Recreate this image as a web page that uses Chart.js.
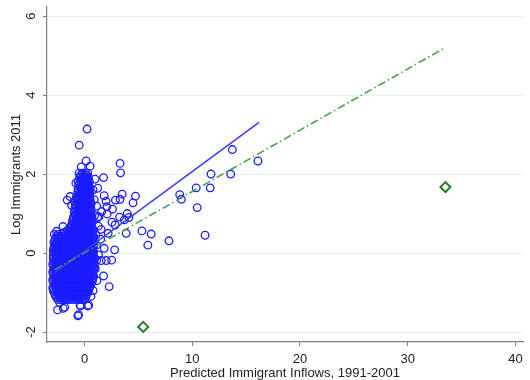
<!DOCTYPE html>
<html>
<head>
<meta charset="utf-8">
<script src="https://cdn.jsdelivr.net/npm/chart.js@4/dist/chart.umd.min.js"></script>
<style>
  html, body { margin: 0; padding: 0; background: #fff; }
  canvas { display: block; }
</style>
</head>
<body>
<canvas id="immigrantChart" width="530" height="380"></canvas>
<script>
const xTicks = [0, 10, 20, 30, 40];
const yTicks = [-2, 0, 2, 4, 6];

// dense cloud near zero, read row by row (log immigrants -> predicted inflows)
const cloudRowY = [-1.18, -1.08, -0.98, -0.88, -0.78, -0.68, -0.58, -0.48, -0.38, -0.28, -0.18,
  -0.08, 0.02, 0.12, 0.22, 0.32, 0.42, 0.52, 0.62, 0.72, 0.82, 0.92, 1.02, 1.12, 1.22, 1.32,
  1.42, 1.52, 1.62, 1.72, 1.82, 1.92, 2.02];
const cloudRowX = [
  [-2.45, -2.15, -1.85, -1.5, -1.2, -0.9, -0.6, -0.3, -0.05],
  [-2.7, -2.35, -2.05, -1.7, -1.4, -1.05, -0.75, -0.45, -0.15, 0.15],
  [-2.85, -2.55, -2.2, -1.9, -1.55, -1.25, -0.9, -0.6, -0.3, 0.0, 0.3],
  [-2.95, -2.65, -2.35, -2.05, -1.7, -1.4, -1.1, -0.75, -0.45, -0.15, 0.15, 0.45],
  [-2.8, -2.5, -2.2, -1.9, -1.55, -1.25, -0.95, -0.6, -0.3, 0.0, 0.3, 0.6],
  [-2.95, -2.65, -2.35, -2.05, -1.75, -1.4, -1.1, -0.8, -0.45, -0.15, 0.15, 0.45, 0.75],
  [-2.8, -2.5, -2.2, -1.9, -1.6, -1.25, -0.95, -0.65, -0.3, 0.0, 0.3, 0.6, 0.85],
  [-2.95, -2.65, -2.35, -2.05, -1.75, -1.45, -1.1, -0.8, -0.5, -0.15, 0.15, 0.45, 0.75],
  [-2.8, -2.5, -2.2, -1.9, -1.6, -1.3, -0.95, -0.65, -0.35, 0.0, 0.3, 0.6, 0.9],
  [-2.95, -2.65, -2.35, -2.05, -1.75, -1.45, -1.15, -0.8, -0.5, -0.2, 0.15, 0.45, 0.75],
  [-2.8, -2.5, -2.2, -1.9, -1.6, -1.3, -1.0, -0.65, -0.35, -0.05, 0.3, 0.6, 0.9],
  [-2.9, -2.6, -2.35, -2.05, -1.75, -1.45, -1.15, -0.8, -0.5, -0.2, 0.15, 0.45, 0.75],
  [-2.8, -2.5, -2.2, -1.9, -1.6, -1.3, -1.0, -0.65, -0.35, -0.05, 0.3, 0.6, 0.85],
  [-2.85, -2.6, -2.35, -2.05, -1.75, -1.45, -1.15, -0.8, -0.5, -0.2, 0.15, 0.45, 0.75],
  [-2.7, -2.45, -2.2, -1.9, -1.6, -1.3, -1.0, -0.65, -0.35, -0.05, 0.3, 0.6, 0.85],
  [-2.75, -2.35, -2.05, -1.75, -1.45, -1.15, -0.8, -0.5, -0.2, 0.15, 0.45, 0.7],
  [-2.6, -2.3, -1.9, -1.55, -1.3, -1.0, -0.65, -0.35, -0.05, 0.3, 0.6, 0.85],
  [-1.9, -1.45, -1.15, -0.85, -0.5, -0.2, 0.1, 0.4, 0.7],
  [-1.35, -1.0, -0.7, -0.4, -0.1, 0.2, 0.5, 0.75],
  [-1.2, -0.85, -0.55, -0.25, 0.05, 0.35, 0.65],
  [-1.1, -0.8, -0.5, -0.2, 0.1, 0.4, 0.7],
  [-1.0, -0.7, -0.4, -0.1, 0.2, 0.5, 0.7],
  [-0.95, -0.65, -0.35, -0.05, 0.25, 0.55],
  [-0.9, -0.6, -0.3, 0.0, 0.3, 0.6],
  [-0.85, -0.55, -0.25, 0.05, 0.35, 0.6],
  [-0.9, -0.6, -0.3, 0.0, 0.3, 0.55],
  [-0.75, -0.45, -0.15, 0.15, 0.45],
  [-0.65, -0.35, -0.05, 0.25, 0.5],
  [-0.6, -0.3, 0.0, 0.3, 0.45],
  [-0.55, -0.25, 0.05, 0.35],
  [-0.6, -0.3, 0.0, 0.3, 0.45],
  [-0.45, -0.15, 0.15, 0.35],
  [-0.5, -0.2, 0.1, 0.3]
];

// in-between rows of the same cloud
const cloudMidY = [-1.13, -1.03, -0.93, -0.83, -0.73, -0.63, -0.53, -0.43, -0.33, -0.23, -0.13,
  -0.03, 0.07, 0.17, 0.27, 0.37, 0.47, 0.57, 0.67, 0.77, 0.87, 0.97, 1.07, 1.17, 1.27, 1.37,
  1.47, 1.57, 1.67, 1.77, 1.87, 1.97];
const cloudMidX = [
  [-2.6, -2.3, -2.0, -1.65, -1.35, -1.05, -0.75, -0.45, -0.15, 0.1],
  [-2.75, -2.45, -2.1, -1.8, -1.5, -1.2, -0.9, -0.55, -0.25, 0.05, 0.25],
  [-2.9, -2.6, -2.3, -1.95, -1.65, -1.35, -1.0, -0.7, -0.4, -0.1, 0.2, 0.4],
  [-2.8, -2.5, -2.2, -1.85, -1.55, -1.25, -0.9, -0.6, -0.3, 0.05, 0.3, 0.55],
  [-2.9, -2.6, -2.3, -2.0, -1.7, -1.35, -1.05, -0.75, -0.45, -0.1, 0.2, 0.5, 0.7],
  [-2.85, -2.55, -2.25, -1.95, -1.65, -1.35, -1.05, -0.7, -0.4, -0.1, 0.25, 0.55, 0.8],
  [-2.9, -2.6, -2.3, -2.0, -1.7, -1.4, -1.1, -0.8, -0.45, -0.15, 0.15, 0.45, 0.75],
  [-2.85, -2.55, -2.25, -1.95, -1.65, -1.35, -1.05, -0.7, -0.4, -0.1, 0.25, 0.55, 0.85],
  [-2.9, -2.6, -2.3, -2.0, -1.7, -1.4, -1.1, -0.8, -0.5, -0.15, 0.15, 0.45, 0.75, 0.95],
  [-2.85, -2.55, -2.25, -1.95, -1.65, -1.35, -1.05, -0.75, -0.45, -0.1, 0.2, 0.5, 0.8],
  [-2.9, -2.6, -2.3, -2.0, -1.7, -1.4, -1.1, -0.8, -0.5, -0.15, 0.15, 0.45, 0.75, 0.95],
  [-2.85, -2.55, -2.25, -1.95, -1.65, -1.35, -1.05, -0.75, -0.45, -0.1, 0.2, 0.5, 0.8],
  [-2.9, -2.65, -2.35, -2.05, -1.75, -1.45, -1.15, -0.85, -0.5, -0.2, 0.1, 0.45, 0.75],
  [-2.8, -2.5, -2.2, -1.9, -1.6, -1.3, -1.0, -0.65, -0.35, -0.05, 0.3, 0.6, 0.85],
  [-2.85, -2.55, -2.25, -1.95, -1.65, -1.35, -1.05, -0.75, -0.45, -0.15, 0.15, 0.45, 0.75],
  [-2.7, -2.45, -2.15, -1.85, -1.55, -1.25, -0.95, -0.65, -0.35, -0.05, 0.3, 0.6, 0.8],
  [-2.8, -2.45, -2.1, -1.7, -1.4, -1.1, -0.8, -0.5, -0.2, 0.15, 0.45, 0.75],
  [-1.6, -1.3, -1.0, -0.7, -0.35, -0.05, 0.25, 0.55, 0.8],
  [-1.25, -0.95, -0.65, -0.35, -0.05, 0.25, 0.55],
  [-1.05, -0.75, -0.45, -0.15, 0.15, 0.45, 0.7],
  [-1.05, -0.75, -0.45, -0.15, 0.15, 0.45, 0.65],
  [-0.85, -0.55, -0.25, 0.05, 0.35, 0.6],
  [-0.8, -0.5, -0.2, 0.1, 0.4, 0.6],
  [-0.75, -0.45, -0.15, 0.2, 0.45],
  [-0.75, -0.45, -0.15, 0.15, 0.45],
  [-0.6, -0.3, 0.0, 0.3, 0.5],
  [-0.5, -0.2, 0.1, 0.35],
  [-0.45, -0.15, 0.15, 0.4],
  [-0.4, -0.1, 0.2, 0.45],
  [-0.45, -0.15, 0.15, 0.35],
  [-0.3, 0.0, 0.3],
  [-0.35, -0.05, 0.2]
];

// scattered points outside the cloud
const outerPoints = [
  [0.24, 3.14], [-0.49, 2.73], [0.15, 2.33], [0.52, 2.2], [-0.3, 2.18],
  [3.3, 2.27], [3.35, 2.03], [1.77, 1.91], [0.98, 1.87], [-0.8, 1.77],
  [1.22, 1.64], [0.8, 1.6], [1.83, 1.45], [2.0, 1.31], [0.9, 1.35],
  [3.5, 1.49], [2.87, 1.34], [3.3, 1.36], [-1.6, 1.34], [-1.34, 1.43],
  [-1.2, 1.21], [1.13, 1.19], [2.07, 1.17], [2.6, 1.11], [1.6, 1.05],
  [2.1, 0.99], [1.34, 0.92], [1.22, 0.9], [0.95, 0.95], [3.97, 1.0], [3.26, 0.91],
  [2.84, 0.71], [3.7, 0.84], [2.55, 0.78], [-2.0, 0.67], [-2.6, 0.55],
  [1.28, 0.68], [1.55, 0.6], [2.2, 0.5], [1.05, 0.45], [1.5, 0.35],
  [4.73, 1.44], [4.51, 1.27], [4.12, 0.9], [3.87, 0.5], [2.8, 0.08],
  [1.83, 0.12], [1.1, 0.2], [1.3, -0.05], [5.33, 0.56], [6.19, 0.48],
  [5.88, 0.2], [7.84, 0.31], [8.84, 1.48], [8.99, 1.36], [10.37, 1.65],
  [11.67, 1.65], [11.74, 2.0], [13.57, 2.0], [13.72, 2.62], [16.1, 2.33],
  [10.46, 1.15], [11.19, 0.45],
  [1.13, -0.18], [1.55, -0.19], [2.02, -0.19], [2.52, -0.18], [1.77, -0.58], [2.29, -0.85],
  [1.0, -0.4], [1.15, -0.7], [0.8, -0.95], [0.6, -1.1],
  [-2.5, -1.44], [-1.98, -1.4], [-1.83, -1.37], [-1.62, -1.15], [-2.3, -1.25],
  [-0.61, -1.59], [-0.55, -1.56], [-0.37, -1.34], [0.3, -1.34], [-0.06, -1.19],
  [0.39, -1.32], [-0.4, -1.32]
];

// two highlighted observations (diamonds)
const flaggedX = [5.45, 33.5];
const flaggedY = [-1.87, 1.67];

// fitted lines: solid (without flagged points), dash-dot (with them)
const fitSolidX = [-2.8, 16.2];
const fitSolidY = [-0.51, 3.31];
const fitDashedX = [-2.75, 33.4];
const fitDashedY = [-0.42, 5.19];

const COLORS = {
  blue: '#1c1cff',
  line: '#3b3bf2',
  green: '#3f9f3f',
  diamond: '#2b7a2b',
  axis: '#808080',
  grid: '#e6eff1',
  ink: '#222222'
};
const FONT = { family: '"Liberation Sans", Arial, sans-serif', size: 13 };

function pairs(xs, ys) {
  return xs.map((x, i) => ({ x, y: ys[i] }));
}

function rows(ys, xRows) {
  return ys.flatMap((y, r) => xRows[r].map((x) => ({ x, y })));
}

function noScalePadding(scale) {
  scale.paddingTop = 0;
  scale.paddingBottom = 0;
  scale.paddingLeft = 0;
  scale.paddingRight = 0;
}

const cloud = [...rows(cloudRowY, cloudRowX), ...rows(cloudMidY, cloudMidX)];
const outer = outerPoints.map(([x, y]) => ({ x, y }));

new Chart(document.getElementById('immigrantChart'), {
  type: 'scatter',
  data: {
    datasets: [
      {
        type: 'line',
        data: pairs(fitDashedX, fitDashedY),
        borderColor: COLORS.green,
        borderWidth: 1.5,
        borderDash: [8, 3, 1.5, 3],
        pointRadius: 0,
        fill: false
      },
      {
        type: 'line',
        data: pairs(fitSolidX, fitSolidY),
        borderColor: COLORS.line,
        borderWidth: 1.5,
        pointRadius: 0,
        fill: false
      },
      {
        data: pairs(flaggedX, flaggedY),
        pointStyle: 'rectRot',
        pointRadius: 5,
        borderWidth: 2,
        borderColor: COLORS.diamond,
        backgroundColor: 'transparent'
      },
      {
        data: [...cloud, ...outer],
        pointRadius: 3.8,
        borderWidth: 1.3,
        borderColor: COLORS.blue,
        backgroundColor: 'transparent'
      }
    ]
  },
  options: {
    responsive: false,
    animation: false,
    events: [],
    layout: { padding: { top: 7, right: 0, bottom: 0, left: 0 } },
    plugins: { legend: { display: false }, tooltip: { enabled: false } },
    scales: {
      x: {
        type: 'linear',
        min: -3.48,
        max: 40.7,
        afterBuildTicks: (scale) => { scale.ticks = xTicks.map((value) => ({ value })); },
        afterFit: (scale) => { scale.height = 38; noScalePadding(scale); },
        grid: { drawOnChartArea: false, tickLength: 4, tickColor: COLORS.axis },
        border: { color: COLORS.axis, width: 1.2 },
        ticks: { color: COLORS.ink, font: FONT, padding: 6, maxRotation: 0 },
        title: {
          display: true,
          text: 'Predicted Immigrant Inflows, 1991-2001',
          color: COLORS.ink,
          font: { ...FONT, lineHeight: 1.0 },
          padding: { top: 0, bottom: 0 }
        }
      },
      y: {
        type: 'linear',
        min: -2.253,
        max: 6.23,
        afterBuildTicks: (scale) => { scale.ticks = yTicks.map((value) => ({ value })); },
        afterFit: (scale) => { scale.width = 47; noScalePadding(scale); },
        grid: { color: COLORS.grid, lineWidth: 1, tickLength: 4, tickColor: COLORS.axis },
        border: { color: COLORS.axis, width: 1.2 },
        ticks: { color: COLORS.ink, font: FONT, padding: 6, minRotation: 90, maxRotation: 90, crossAlign: 'center' },
        title: {
          display: true,
          text: 'Log Immigrants 2011',
          color: COLORS.ink,
          font: FONT,
          padding: { top: 9, bottom: 0 }
        }
      }
    }
  }
});
</script>
</body>
</html>
